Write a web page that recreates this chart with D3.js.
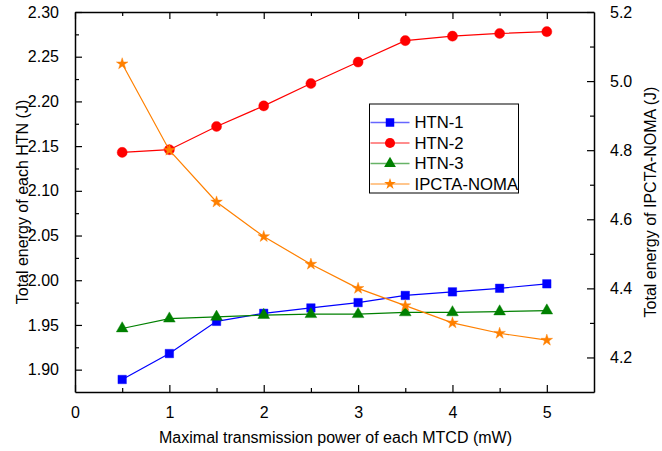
<!DOCTYPE html>
<html>
<head>
<meta charset="utf-8">
<script src="https://cdn.jsdelivr.net/npm/d3@7"></script>
<style>
  html, body { margin: 0; padding: 0; background: #fff; }
  svg { display: block; font-family: "Liberation Sans", Arial, sans-serif; }
</style>
</head>
<body>
<svg id="chart" width="662" height="451"></svg>
<script>
const xValues = [0.5, 1, 1.5, 2, 2.5, 3, 3.5, 4, 4.5, 5];
const htn1 = [1.889, 1.918, 1.954, 1.963, 1.969, 1.975, 1.983, 1.987, 1.991, 1.996];
const htn2 = [2.143, 2.146, 2.172, 2.195, 2.220, 2.244, 2.268, 2.273, 2.276, 2.278];
const htn3 = [1.946, 1.957, 1.959, 1.961, 1.962, 1.962, 1.964, 1.964, 1.965, 1.966];
const ipcta = [5.05, 4.80, 4.65, 4.55, 4.47, 4.40, 4.35, 4.30, 4.27, 4.25];

const xTicks = [0, 1, 2, 3, 4, 5];
const xMinorTicks = [0.5, 1.5, 2.5, 3.5, 4.5];
const leftTicks = [1.90, 1.95, 2.00, 2.05, 2.10, 2.15, 2.20, 2.25, 2.30];
const leftMinorTicks = [1.925, 1.975, 2.025, 2.075, 2.125, 2.175, 2.225, 2.275];
const rightTicks = [4.2, 4.4, 4.6, 4.8, 5.0, 5.2];
const rightMinorTicks = [4.3, 4.5, 4.7, 4.9, 5.1];

const seriesNames = ["HTN-1", "HTN-2", "HTN-3", "IPCTA-NOMA"];
const seriesColors = ["#0000ff", "#ff0000", "#008000", "#ff8000"];

const xLabel = "Maximal transmission power of each MTCD (mW)";
const yLeftLabel = "Total energy of each HTN (J)";
const yRightLabel = "Total energy of IPCTA-NOMA (J)";

const L = 75, R = 594, T = 12, B = 392;
const svg = d3.select("#chart");

const x = d3.scaleLinear().domain([0, 5.5]).range([L, R]);
const yL = d3.scaleLinear().domain([1.875, 2.30]).range([B, T]);
const yR = d3.scaleLinear().domain([4.1, 5.2]).range([B, T]);

const series = [
  { name: seriesNames[0], vals: htn1, y: yL, color: seriesColors[0], sym: d3.symbolSquare, size: 72 },
  { name: seriesNames[1], vals: htn2, y: yL, color: seriesColors[1], sym: d3.symbolCircle, size: 80 },
  { name: seriesNames[2], vals: htn3, y: yL, color: seriesColors[2], sym: d3.symbolTriangle, size: 60 },
  { name: seriesNames[3], vals: ipcta, y: yR, color: seriesColors[3], sym: d3.symbolStar, size: 42 }
];

const fontSize = 16;

function styleAxis(g) {
  g.select(".domain").attr("stroke", "#000").attr("stroke-width", 1.5);
  g.selectAll(".tick line").attr("stroke", "#000").attr("stroke-width", 1.2);
  g.selectAll(".tick text").attr("fill", "#000").attr("font-size", fontSize);
}
function minor(g) {
  g.select(".domain").remove();
  g.selectAll("line").attr("stroke", "#000").attr("stroke-width", 1.2);
}

// bottom
svg.append("g").attr("transform", `translate(0,${B})`)
  .call(d3.axisBottom(x).tickValues(xTicks).tickFormat(d3.format("d")).tickSizeInner(-7).tickSizeOuter(0).tickPadding(15))
  .call(styleAxis);
svg.append("g").attr("transform", `translate(0,${B})`)
  .call(d3.axisBottom(x).tickValues(xMinorTicks).tickFormat("").tickSizeInner(-4).tickSizeOuter(0))
  .call(minor);

// top
svg.append("g").attr("transform", `translate(0,${T})`)
  .call(d3.axisTop(x).tickValues(xTicks).tickFormat("").tickSizeInner(-7).tickSizeOuter(0))
  .call(styleAxis);
svg.append("g").attr("transform", `translate(0,${T})`)
  .call(d3.axisTop(x).tickValues(xMinorTicks).tickFormat("").tickSizeInner(-4).tickSizeOuter(0))
  .call(minor);

// left
svg.append("g").attr("transform", `translate(${L},0)`)
  .call(d3.axisLeft(yL).tickValues(leftTicks).tickFormat(d3.format(".2f")).tickSizeInner(-7).tickSizeOuter(0).tickPadding(16))
  .call(styleAxis);
svg.append("g").attr("transform", `translate(${L},0)`)
  .call(d3.axisLeft(yL).tickValues(leftMinorTicks).tickFormat("").tickSizeInner(-4).tickSizeOuter(0))
  .call(minor);

// right
svg.append("g").attr("transform", `translate(${R},0)`)
  .call(d3.axisRight(yR).tickValues(rightTicks).tickFormat(d3.format(".1f")).tickSizeInner(-7).tickSizeOuter(0).tickPadding(16))
  .call(styleAxis);
svg.append("g").attr("transform", `translate(${R},0)`)
  .call(d3.axisRight(yR).tickValues(rightMinorTicks).tickFormat("").tickSizeInner(-4).tickSizeOuter(0))
  .call(minor);

// Series
series.forEach(s => {
  const pts = xValues.map((xv, i) => [x(xv), s.y(s.vals[i])]);
  svg.append("path")
    .attr("d", d3.line()(pts))
    .attr("fill", "none")
    .attr("stroke", s.color)
    .attr("stroke-width", 1.2);
  svg.append("g").selectAll("path")
    .data(pts)
    .join("path")
    .attr("transform", d => `translate(${d[0]},${d[1]})`)
    .attr("d", d3.symbol().type(s.sym).size(s.size))
    .attr("fill", s.color)
    .attr("stroke", s.color)
    .attr("stroke-opacity", 0.4)
    .attr("stroke-width", 1);
});

// Axis titles
svg.append("text")
  .attr("x", (L + R) / 2 + 1).attr("y", 443)
  .attr("text-anchor", "middle").attr("font-size", fontSize).attr("fill", "#000")
  .text(xLabel);
svg.append("text")
  .attr("transform", `translate(28,${(T + B) / 2}) rotate(-90)`)
  .attr("text-anchor", "middle").attr("font-size", fontSize).attr("fill", "#000")
  .text(yLeftLabel);
svg.append("text")
  .attr("transform", `translate(650,${(T + B) / 2}) rotate(-90)`)
  .attr("text-anchor", "middle").attr("font-size", fontSize).attr("fill", "#000")
  .attr("dominant-baseline", "central")
  .text(yRightLabel);

// Legend
const legX = 369.5, legY = 104, legW = 149, legH = 89;
const leg = svg.append("g");
leg.append("rect")
  .attr("x", legX).attr("y", legY).attr("width", legW).attr("height", legH)
  .attr("fill", "#fff").attr("stroke", "#000").attr("stroke-width", 1);
series.forEach((s, i) => {
  const cy = 122.5 + i * 20.5;
  leg.append("line")
    .attr("x1", legX + 1).attr("x2", legX + 40).attr("y1", cy).attr("y2", cy)
    .attr("stroke", s.color).attr("stroke-opacity", 0.6).attr("stroke-width", 1.5);
  leg.append("path")
    .attr("transform", `translate(${legX + 20.5},${cy})`)
    .attr("d", d3.symbol().type(s.sym).size(s.size))
    .attr("fill", s.color);
  leg.append("text")
    .attr("x", legX + 45).attr("y", cy)
    .attr("dominant-baseline", "central")
    .attr("font-size", 16.7).attr("fill", "#000")
    .text(s.name);
});
</script>
</body>
</html>
